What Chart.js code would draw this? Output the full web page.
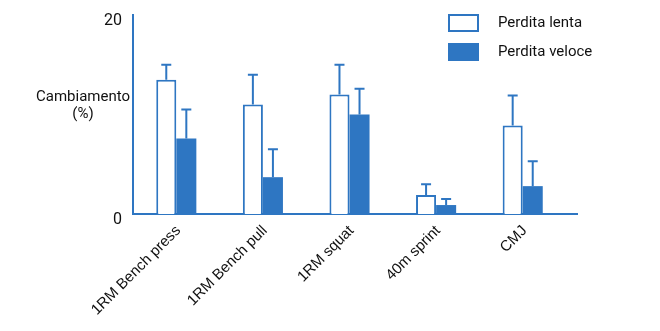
<!DOCTYPE html>
<html>
<head>
<meta charset="utf-8">
<script src="https://cdn.jsdelivr.net/npm/chart.js@4.4.0/dist/chart.umd.min.js"></script>
<style>
    html, body { margin: 0; padding: 0; background: #fff; }
    #wrap { width: 660px; height: 331px; }
</style>
</head>
<body>
<div id="wrap"><canvas id="chart"></canvas></div>
<script>
// Data
const categories = ['1RM Bench press', '1RM Bench pull', '1RM squat', '40m sprint', 'CMJ'];
const slowLoss = [13.5, 11.0, 12.0, 1.9, 8.9];
const slowLossErr = [1.5, 3.0, 3.0, 1.1, 3.0];
const fastLoss = [7.6, 3.7, 10.0, 0.9, 2.8];
const fastLossErr = [2.9, 2.8, 2.6, 0.6, 2.5];
const yTicks = [0, 20];
const seriesNames = ['Perdita lenta', 'Perdita veloce'];

const BLUE = '#2e76c2';

// Upward-only error bars with a small cap
const errorBarPlugin = {
    id: 'errorBars',
    afterDatasetsDraw(chart) {
        const ctx = chart.ctx;
        const yScale = chart.scales.y;
        chart.data.datasets.forEach((ds, di) => {
            const meta = chart.getDatasetMeta(di);
            meta.data.forEach((bar, i) => {
                const top = yScale.getPixelForValue(ds.data[i] + ds.errors[i]);
                ctx.save();
                ctx.strokeStyle = BLUE;
                ctx.lineWidth = 2;
                ctx.beginPath();
                ctx.moveTo(bar.x, bar.y);
                ctx.lineTo(bar.x, top);
                ctx.moveTo(bar.x - 5, top);
                ctx.lineTo(bar.x + 5, top);
                ctx.stroke();
                ctx.restore();
            });
        });
    }
};

// Legend, y title and baseline overhang
const decorPlugin = {
    id: 'decor',
    afterDraw(chart) {
        const ctx = chart.ctx;
        const area = chart.chartArea;
        ctx.save();

        // baseline runs a little past the last category
        ctx.strokeStyle = BLUE;
        ctx.lineWidth = 2;
        ctx.beginPath();
        ctx.moveTo(area.right - 1, area.bottom);
        ctx.lineTo(area.right + 12, area.bottom);
        ctx.stroke();

        // y axis title
        ctx.fillStyle = '#111';
        ctx.font = '15px Roboto';
        ctx.textAlign = 'center';
        ctx.textBaseline = 'middle';
        ctx.fillText('Cambiamento', 83, 97);
        ctx.fillText('(%)', 83, 114);

        // legend
        const boxX = 448, boxW = 31, boxH = 18;
        const rows = [14, 43];
        chart.data.datasets.forEach((ds, i) => {
            const y = rows[i];
            if (i === 0) {
                ctx.fillStyle = '#fff';
                ctx.fillRect(boxX, y, boxW, boxH);
                ctx.strokeStyle = BLUE;
                ctx.lineWidth = 2;
                ctx.strokeRect(boxX + 1, y + 1, boxW - 2, boxH - 2);
            } else {
                ctx.fillStyle = BLUE;
                ctx.fillRect(boxX, y, boxW, boxH);
            }
            ctx.fillStyle = '#111';
            ctx.textAlign = 'left';
            ctx.fillText(ds.label, 498, y + boxH / 2);
        });
        ctx.restore();
    }
};

const ctx = document.getElementById('chart').getContext('2d');
new Chart(ctx, {
    type: 'bar',
    data: {
        labels: categories,
        datasets: [
            {
                label: seriesNames[0],
                data: slowLoss,
                errors: slowLossErr,
                backgroundColor: '#fff',
                borderColor: BLUE,
                borderWidth: 2
            },
            {
                label: seriesNames[1],
                data: fastLoss,
                errors: fastLossErr,
                backgroundColor: BLUE,
                borderColor: BLUE,
                borderWidth: 0
            }
        ]
    },
    options: {
        responsive: true,
        maintainAspectRatio: false,
        animation: false,
        events: [],
        layout: { padding: { left: 0, top: 15, right: 94, bottom: 0 } },
        categoryPercentage: 0.463,
        barPercentage: 1.0,
        plugins: {
            legend: { display: false },
            tooltip: { enabled: false }
        },
        scales: {
            x: {
                grid: { display: false, drawTicks: false },
                border: { display: true, color: BLUE, width: 2 },
                ticks: {
                    autoSkip: false,
                    minRotation: 45,
                    maxRotation: 45,
                    padding: 8,
                    labelOffset: 2,
                    color: '#111',
                    font: { family: 'Liberation Sans, Arial', size: 15 }
                },
                afterFit(scale) {
                    scale.height = 117;
                    scale.paddingLeft = 0;
                    scale.paddingRight = 0;
                }
            },
            y: {
                min: yTicks[0],
                max: yTicks[yTicks.length - 1],
                grid: { display: false, drawTicks: false },
                border: { display: true, color: BLUE, width: 2 },
                ticks: {
                    stepSize: 20,
                    padding: 11,
                    labelOffset: 6,
                    color: '#111',
                    font: { family: 'Roboto', size: 16 },
                    callback: v => yTicks.includes(v) ? v : ''
                },
                afterFit(scale) {
                    scale.width = 133;
                    scale.paddingTop = 0;
                    scale.paddingBottom = 0;
                }
            }
        }
    },
    plugins: [errorBarPlugin, decorPlugin]
});
</script>
</body>
</html>
